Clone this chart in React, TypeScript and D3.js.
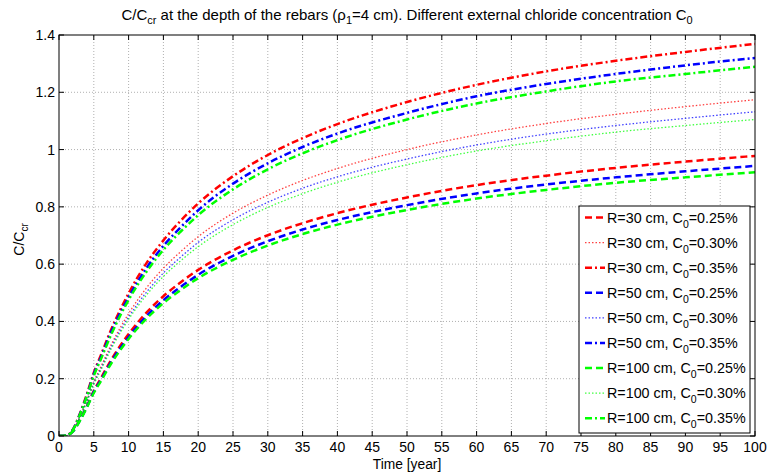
import React from 'react';
import * as d3 from 'd3';

// time axis (years) and C/Ccr values
const years = [0, 1, 2, 3, 4, 5, 6, 7.5, 10, 12.5, 15, 17.5, 20, 25, 30, 35, 40, 50, 60, 70, 80, 90, 100];

const r30c25 = [0, 0.001, 0.017, 0.056, 0.104, 0.158, 0.201, 0.266, 0.356, 0.429, 0.488, 0.537, 0.580, 0.648, 0.701, 0.743, 0.778, 0.833, 0.876, 0.909, 0.936, 0.958, 0.978];
const r30c30 = [0, 0.001, 0.020, 0.067, 0.125, 0.190, 0.241, 0.319, 0.427, 0.515, 0.586, 0.644, 0.696, 0.778, 0.841, 0.892, 0.934, 1.000, 1.051, 1.091, 1.123, 1.150, 1.174];
const r30c35 = [0, 0.001, 0.023, 0.078, 0.146, 0.221, 0.281, 0.372, 0.498, 0.601, 0.683, 0.752, 0.812, 0.907, 0.981, 1.040, 1.089, 1.166, 1.226, 1.273, 1.310, 1.341, 1.369];
const r50c25 = [0, 0.001, 0.016, 0.054, 0.101, 0.154, 0.195, 0.259, 0.346, 0.417, 0.474, 0.521, 0.563, 0.629, 0.680, 0.721, 0.754, 0.806, 0.847, 0.878, 0.903, 0.924, 0.943];
const r50c30 = [0, 0.001, 0.019, 0.065, 0.121, 0.185, 0.234, 0.311, 0.415, 0.500, 0.569, 0.625, 0.676, 0.755, 0.816, 0.865, 0.905, 0.967, 1.016, 1.054, 1.084, 1.109, 1.132];
const r50c35 = [0, 0.001, 0.022, 0.076, 0.141, 0.216, 0.273, 0.363, 0.484, 0.584, 0.664, 0.729, 0.788, 0.881, 0.952, 1.009, 1.056, 1.128, 1.186, 1.229, 1.264, 1.294, 1.320];
const r100c25 = [0, 0.001, 0.016, 0.053, 0.099, 0.150, 0.191, 0.253, 0.339, 0.408, 0.464, 0.510, 0.551, 0.615, 0.665, 0.705, 0.738, 0.789, 0.829, 0.859, 0.884, 0.903, 0.921];
const r100c30 = [0, 0.001, 0.019, 0.064, 0.119, 0.180, 0.229, 0.304, 0.407, 0.490, 0.557, 0.612, 0.661, 0.738, 0.798, 0.846, 0.886, 0.947, 0.995, 1.031, 1.061, 1.084, 1.105];
const r100c35 = [0, 0.001, 0.022, 0.074, 0.139, 0.210, 0.267, 0.354, 0.475, 0.571, 0.650, 0.714, 0.771, 0.861, 0.931, 0.987, 1.033, 1.105, 1.161, 1.203, 1.238, 1.264, 1.289];

const xTicks = d3.range(0, 101, 5);
const yTicks = [0, 0.2, 0.4, 0.6, 0.8, 1, 1.2, 1.4];

const colors = { '30': '#ff0000', '50': '#0000ff', '100': '#00ff00' };

const styles = {
  '0.25%': { dash: '7,4', width: 2.5, opacity: 1 },
  '0.30%': { dash: '1.5,2', width: 1.3, opacity: 0.75 },
  '0.35%': { dash: '7,3,2,3', width: 2.5, opacity: 1 },
};

const series = [
  { r: '30', c0: '0.25%', values: r30c25 },
  { r: '30', c0: '0.30%', values: r30c30 },
  { r: '30', c0: '0.35%', values: r30c35 },
  { r: '50', c0: '0.25%', values: r50c25 },
  { r: '50', c0: '0.30%', values: r50c30 },
  { r: '50', c0: '0.35%', values: r50c35 },
  { r: '100', c0: '0.25%', values: r100c25 },
  { r: '100', c0: '0.30%', values: r100c30 },
  { r: '100', c0: '0.35%', values: r100c35 },
];

const W = 767;
const H = 474;
const margin = { top: 35, right: 12, bottom: 38, left: 59 };
const font = 'Arial, "Liberation Sans", sans-serif';

export default function App() {
  const x = d3.scaleLinear().domain([0, 100]).range([margin.left, W - margin.right]);
  const y = d3.scaleLinear().domain([0, 1.4]).range([H - margin.bottom, margin.top]);
  const [x0, x1] = x.range();
  const [y0, y1] = y.range();

  const line = d3.line<number>()
    .x((_, i) => x(years[i]))
    .y(d => y(d))
    .curve(d3.curveMonotoneX);

  const fmt = (v: number) => String(+v.toFixed(1));

  // legend placement
  const lg = { left: 579, top: 206, right: 750, bottom: 433, row: 25.1 };

  return (
    <svg width={W} height={H} style={{ position: 'absolute', left: 0, top: 0, background: '#fff' }} fontFamily={font}>
      <defs>
        <clipPath id="plot">
          <rect x={x0} y={y1} width={x1 - x0} height={y0 - y1} />
        </clipPath>
      </defs>
      <rect x={0} y={0} width={W} height={H} fill="#fff" />

      {/* grid */}
      <g stroke="#b0b0b0" strokeWidth={1} strokeDasharray="1,2">
        {xTicks.slice(1, -1).map(t => (
          <line key={'gx' + t} x1={x(t)} x2={x(t)} y1={y0} y2={y1} />
        ))}
        {yTicks.slice(1, -1).map(t => (
          <line key={'gy' + t} x1={x0} x2={x1} y1={y(t)} y2={y(t)} />
        ))}
      </g>

      {/* curves */}
      <g clipPath="url(#plot)" fill="none">
        {series.map((s, i) => (
          <path key={i} d={line(s.values) || ''}
            stroke={colors[s.r]} strokeWidth={styles[s.c0].width}
            strokeOpacity={styles[s.c0].opacity}
            strokeDasharray={styles[s.c0].dash} />
        ))}
      </g>

      {/* box and ticks */}
      <rect x={x0} y={y1} width={x1 - x0} height={y0 - y1} fill="none" stroke="#000" strokeWidth={1} />
      <g stroke="#000" strokeWidth={1}>
        {xTicks.map(t => (
          <g key={'tx' + t}>
            <line x1={x(t)} x2={x(t)} y1={y0} y2={y0 - 5} />
            <line x1={x(t)} x2={x(t)} y1={y1} y2={y1 + 5} />
          </g>
        ))}
        {yTicks.map(t => (
          <g key={'ty' + t}>
            <line x1={x0} x2={x0 + 5} y1={y(t)} y2={y(t)} />
            <line x1={x1} x2={x1 - 5} y1={y(t)} y2={y(t)} />
          </g>
        ))}
      </g>

      {/* tick labels */}
      <g fontSize={14} fill="#000">
        {xTicks.map(t => (
          <text key={'lx' + t} x={x(t)} y={y0 + 16} textAnchor="middle">{t}</text>
        ))}
        {yTicks.map(t => (
          <text key={'ly' + t} x={x0 - 4} y={y(t) + 5} textAnchor="end">{fmt(t)}</text>
        ))}
      </g>

      {/* axis labels */}
      <text x={(x0 + x1) / 2} y={469} textAnchor="middle" fontSize={13.8}>Time [year]</text>
      <text transform={`translate(24,${(y0 + y1) / 2 + 4}) rotate(-90)`} textAnchor="middle" fontSize={14}>
        C/C<tspan fontSize={10} dy={4}>cr</tspan>
      </text>

      {/* title */}
      <text x={(x0 + x1) / 2} y={20} textAnchor="middle" fontSize={15}>
        C/C<tspan fontSize={11} dy={4}>cr</tspan>
        <tspan dy={-4}> at the depth of the rebars (ρ</tspan>
        <tspan fontSize={11} dy={4}>1</tspan>
        <tspan dy={-4}>=4 cm). Different external chloride concentration C</tspan>
        <tspan fontSize={11} dy={4}>0</tspan>
      </text>

      {/* legend */}
      <rect x={lg.left} y={lg.top} width={lg.right - lg.left} height={lg.bottom - lg.top}
        fill="#fff" stroke="#000" strokeWidth={1} />
      {series.map((s, i) => {
        const cy = lg.top + 11.5 + i * lg.row;
        return (
          <g key={'lg' + i}>
            <line x1={585} x2={605} y1={cy} y2={cy} stroke={colors[s.r]}
              strokeWidth={styles[s.c0].width} strokeOpacity={styles[s.c0].opacity}
              strokeDasharray={styles[s.c0].dash} />
            <text x={607} y={cy + 5} fontSize={14.3}>
              R={s.r} cm, C<tspan fontSize={10.5} dy={5}>0</tspan>
              <tspan dy={-5}>={s.c0}</tspan>
            </text>
          </g>
        );
      })}
    </svg>
  );
}
